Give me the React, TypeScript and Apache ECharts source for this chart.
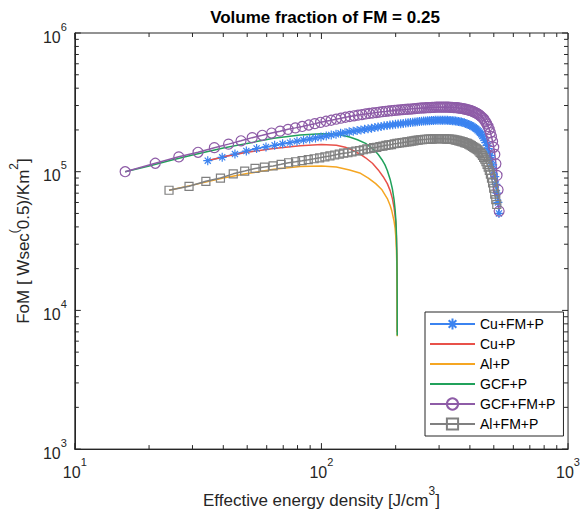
import React, { useEffect, useRef } from "react";
import * as echarts from "echarts";

// ---------- data (energy density in J/cm^3, FoM in units of 1e5) ----------
const seriesNames = ["Cu+FM+P", "Cu+P", "Al+P", "GCF+P", "GCF+FM+P", "Al+FM+P"];

const cuFmP_x = [34.6,39.6,44.6,49.6,54.6,59.6,64.6,69.6,74.6,79.6,84.6,89.6,94.6,99.6,104.6,109.6,114.6,119.6,124.6,129.6,134.6,139.6,144.6,149.6,154.6,159.6,164.6,169.6,174.6,179.6,184.6,189.6,194.6,199.6,204.6,209.6,214.6,219.6,224.6,229.6,234.6,239.6,244.6,249.6,254.6,259.6,264.6,269.6,274.6,279.6,284.6,289.6,294.6,299.6,304.6,309.6,314.6,319.6,324.6,329.6,334.6,339.6,344.6,349.6,354.6,359.6,364.6,369.6,374.6,379.6,384.6,389.6,394.6,399.6,404.6,409.6,414.6,419.6,424.6,429.6,434.6,439.6,444.6,449.6,454.6,459.6,464.6,469.6,474.6,479.6,484.6,489.6,494.6,499.6,504.6,509.6,514.6,519.6,524.6];
const cuFmP_y = [1.20,1.27,1.34,1.41,1.47,1.51,1.55,1.59,1.62,1.66,1.69,1.72,1.75,1.78,1.81,1.84,1.86,1.89,1.91,1.94,1.96,1.98,2.00,2.02,2.04,2.06,2.08,2.10,2.12,2.14,2.15,2.17,2.18,2.20,2.21,2.22,2.23,2.24,2.25,2.26,2.27,2.28,2.29,2.30,2.31,2.32,2.32,2.33,2.33,2.34,2.34,2.35,2.35,2.35,2.35,2.35,2.35,2.35,2.35,2.34,2.34,2.33,2.33,2.32,2.31,2.30,2.29,2.28,2.26,2.25,2.23,2.21,2.19,2.17,2.15,2.12,2.09,2.06,2.03,1.99,1.95,1.91,1.86,1.81,1.75,1.69,1.62,1.55,1.47,1.39,1.31,1.22,1.12,1.02,0.92,0.81,0.70,0.60,0.50];

const cuP_x = [34.6,40,50,64,82,100,115,125,135,145,151,161,170,178,185,190,194,197,199,200.5,201.5,202.2,202.6,202.85,202.95];
const cuP_y = [1.20,1.28,1.38,1.47,1.54,1.57,1.55,1.50,1.42,1.32,1.26,1.15,1.03,0.92,0.82,0.73,0.64,0.55,0.48,0.40,0.33,0.25,0.18,0.12,0.07];

const alP_x = [24.1,30,40,50,64,82,100,115,130,143,155,166,176,185,190,193,197,199,200.5,201.5,202.2,202.6,202.85,202.95];
const alP_y = [0.735,0.80,0.90,0.97,1.04,1.09,1.10,1.08,1.03,0.98,0.90,0.82,0.74,0.64,0.57,0.52,0.44,0.39,0.33,0.27,0.21,0.16,0.11,0.065];

const gcfP_x = [16,20,25,30,40,50,64,82,100,111,120,130,140,151,160,165,170,176,181,185,190,194,197,199,200.5,201.5,202.2,202.6,202.85,202.95];
const gcfP_y = [1.00,1.10,1.22,1.32,1.48,1.60,1.74,1.84,1.88,1.87,1.84,1.78,1.70,1.60,1.48,1.41,1.33,1.22,1.12,1.02,0.88,0.75,0.63,0.53,0.44,0.35,0.26,0.19,0.12,0.066];

const gcfFmP_x = [16,21.2,26.4,31.6,36.8,42,47.2,52.4,57.6,62.8,68,73.2,78.4,83.6,88.8,94,99.2,104.4,109.6,114.8,120,125.2,130.4,135.6,140.8,146,151.2,156.4,161.6,166.8,172,177.2,182.4,187.6,192.8,198,203.2,208.4,213.6,218.8,224,229.2,234.4,239.6,244.8,250,255.2,260.4,265.6,270.8,276,281.2,286.4,291.6,296.8,302,307.2,312.4,317.6,322.8,328,333.2,338.4,343.6,348.8,354,359.2,364.4,369.6,374.8,380,385.2,390.4,395.6,400.8,406,411.2,416.4,421.6,426.8,432,437.2,442.4,447.6,452.8,458,463.2,468.4,473.6,478.8,484,489.2,494.4,499.6,504.8,510,515.2,520.4,525.6];
const gcfFmP_y = [1.00,1.15,1.28,1.38,1.49,1.58,1.67,1.76,1.83,1.90,1.96,2.02,2.07,2.12,2.17,2.22,2.27,2.31,2.35,2.39,2.43,2.47,2.50,2.53,2.56,2.58,2.61,2.63,2.65,2.67,2.69,2.71,2.72,2.74,2.75,2.77,2.78,2.79,2.80,2.81,2.82,2.83,2.84,2.85,2.86,2.87,2.88,2.88,2.89,2.90,2.90,2.91,2.91,2.92,2.92,2.92,2.92,2.92,2.92,2.92,2.92,2.91,2.91,2.90,2.90,2.89,2.88,2.87,2.86,2.85,2.83,2.82,2.80,2.78,2.77,2.74,2.72,2.69,2.66,2.63,2.60,2.56,2.52,2.47,2.42,2.36,2.29,2.21,2.12,2.02,1.91,1.79,1.65,1.50,1.33,1.14,0.94,0.74,0.52];

const alFmP_x = [24.1,29.05,34,38.95,43.9,48.85,53.8,58.75,63.7,68.65,73.6,78.55,83.5,88.45,93.4,98.35,103.3,108.25,113.2,118.15,123.1,128.05,133,137.95,142.9,147.85,152.8,157.75,162.7,167.65,172.6,177.55,182.5,187.45,192.4,197.35,202.3,207.25,212.2,217.15,222.1,227.05,232,236.95,241.9,246.85,251.8,256.75,261.7,266.65,271.6,276.55,281.5,286.45,291.4,296.35,301.3,306.25,311.2,316.15,321.1,326.05,331,335.95,340.9,345.85,350.8,355.75,360.7,365.65,370.6,375.55,380.5,385.45,390.4,395.35,400.3,405.25,410.2,415.15,420.1,425.05,430,434.95,439.9,444.85,449.8,454.75,459.7,464.65,469.6,474.55,479.5,484.45,489.4,494.35,499.3,504.25,509.2,514.15];
const alFmP_y = [0.735,0.785,0.853,0.90,0.965,1.01,1.055,1.08,1.10,1.13,1.16,1.18,1.20,1.22,1.24,1.26,1.28,1.30,1.32,1.34,1.36,1.37,1.39,1.41,1.42,1.44,1.46,1.47,1.49,1.50,1.52,1.53,1.55,1.56,1.57,1.59,1.60,1.61,1.62,1.63,1.64,1.65,1.66,1.67,1.68,1.69,1.70,1.70,1.71,1.71,1.72,1.72,1.72,1.73,1.73,1.73,1.73,1.73,1.73,1.73,1.72,1.72,1.72,1.71,1.71,1.70,1.69,1.68,1.67,1.66,1.65,1.64,1.62,1.61,1.60,1.58,1.56,1.54,1.52,1.50,1.48,1.46,1.44,1.41,1.38,1.35,1.31,1.27,1.23,1.18,1.13,1.08,1.02,0.96,0.90,0.83,0.76,0.69,0.63,0.58];

const xMajorTicks = [10, 100, 1000];
const xMinorTicks = [20, 30, 40, 50, 60, 70, 80, 90, 200, 300, 400, 500, 600, 700, 800, 900];
const yMajorTicks = [1e3, 1e4, 1e5, 1e6];
const yMinorTicks = [2e3, 3e3, 4e3, 5e3, 6e3, 7e3, 8e3, 9e3, 2e4, 3e4, 4e4, 5e4, 6e4, 7e4, 8e4, 9e4, 2e5, 3e5, 4e5, 5e5, 6e5, 7e5, 8e5, 9e5];

const X_MIN = 10, X_MAX = 1000, Y_MIN = 1e3, Y_MAX = 1e6;

// ---------- style ----------
const FONT = "Liberation Sans, Arial, Helvetica, sans-serif";
const AX = "#262626";
const colors = {
  blue: "#3b83f0",
  red: "#e8514a",
  orange: "#f5a623",
  green: "#21a15b",
  purple: "#8e5ca7",
  gray: "#808080",
};
const ASTERISK = "path://M5 0L5 10M0 5L10 5M1.6 1.6L8.4 8.4M8.4 1.6L1.6 8.4";
const CLEAR = "rgba(0,0,0,0)";

const zip = (xs: number[], ys: number[]) => {
  const n = Math.min(xs.length, ys.length);
  const out: number[][] = [];
  for (let i = 0; i < n; i++) out.push([xs[i], ys[i] * 1e5]);
  return out;
};

const supRich = {
  b: { fontSize: 16, lineHeight: 24, verticalAlign: "bottom", color: AX, fontFamily: FONT },
  sup: { fontSize: 11, lineHeight: 12, verticalAlign: "top", color: AX, fontFamily: FONT },
};
const nameRich = {
  n: { fontSize: 17, lineHeight: 24, verticalAlign: "bottom", color: AX, fontFamily: FONT },
  sup: { fontSize: 12, lineHeight: 12, verticalAlign: "top", color: AX, fontFamily: FONT },
};
const powLabel = (v: number) => `{b|10}{sup|${Math.round(Math.log10(v))}}`;

export default function App() {
  const ref = useRef<HTMLDivElement>(null);

  useEffect(() => {
    if (!ref.current) return;
    const chart = echarts.init(ref.current, undefined, { renderer: "svg" });

    const xTickData = [
      ...xMajorTicks.map((v) => [v, Y_MIN, 1]),
      ...xMinorTicks.map((v) => [v, Y_MIN, 0]),
    ];
    const yTickData = [
      ...yMajorTicks.map((v) => [X_MIN, v, 1]),
      ...yMinorTicks.map((v) => [X_MIN, v, 0]),
    ];
    const tickStyle = { stroke: AX, lineWidth: 1 };

    const lineSeries = (name: string, data: number[][], color: string, extra: any = {}) => ({
      name,
      type: "line",
      data,
      symbol: "none",
      showSymbol: false,
      lineStyle: { color, width: 1.5 },
      itemStyle: { color: CLEAR, borderColor: CLEAR, borderWidth: 0 },
      emphasis: { disabled: true },
      silent: true,
      ...extra,
    });

    const option: any = {
      animation: false,
      backgroundColor: "#ffffff",
      title: {
        text: "Volume fraction of FM = 0.25",
        left: 320,
        top: 4,
        textAlign: "center",
        textStyle: { fontFamily: FONT, fontSize: 17, fontWeight: "bold", color: "#000" },
      },
      grid: {
        left: 71,
        right: 11,
        top: 33,
        bottom: 61,
        show: true,
        borderColor: AX,
        borderWidth: 1,
        backgroundColor: "#fff",
      },
      legend: {
        data: seriesNames,
        orient: "vertical",
        left: 425,
        top: 312,
        itemWidth: 45,
        itemHeight: 14,
        itemGap: 6,
        padding: [5, 8, 5, 4],
        borderColor: AX,
        borderWidth: 1,
        backgroundColor: "#fff",
        textStyle: { fontFamily: FONT, fontSize: 14, color: "#000" },
        selectedMode: false,
      },
      xAxis: {
        type: "log",
        logBase: 10,
        min: X_MIN,
        max: X_MAX,
        name: "{n|Effective energy density [J/cm}{sup|3}{n|]}",
        nameLocation: "middle",
        nameGap: 35,
        nameTextStyle: { rich: nameRich },
        axisLine: { show: true, lineStyle: { color: AX } },
        axisTick: { show: false },
        splitLine: { show: false },
        axisLabel: { formatter: powLabel, rich: supRich, margin: 7 },
      },
      yAxis: {
        type: "log",
        logBase: 10,
        min: Y_MIN,
        max: Y_MAX,
        name: "{n|FoM [ Wsec}{sup|(}{n|0.5)/Km}{sup|2}{n|]}",
        nameLocation: "middle",
        nameGap: 40,
        nameTextStyle: { rich: nameRich },
        axisLine: { show: true, lineStyle: { color: AX } },
        axisTick: { show: false },
        splitLine: { show: false },
        axisLabel: { formatter: powLabel, rich: supRich, margin: 8 },
      },
      series: [
        lineSeries("Cu+FM+P", zip(cuFmP_x, cuFmP_y), colors.blue, {
          symbol: ASTERISK,
          showSymbol: true,
          showAllSymbol: true,
          symbolSize: 9,
          itemStyle: { color: colors.blue, borderColor: colors.blue, borderWidth: 1.2 },
        }),
        lineSeries("Cu+P", zip(cuP_x, cuP_y), colors.red),
        lineSeries("Al+P", zip(alP_x, alP_y), colors.orange),
        lineSeries("GCF+P", zip(gcfP_x, gcfP_y), colors.green),
        lineSeries("GCF+FM+P", zip(gcfFmP_x, gcfFmP_y), colors.purple, {
          symbol: "circle",
          showSymbol: true,
          showAllSymbol: true,
          symbolSize: 10,
          itemStyle: { color: CLEAR, borderColor: colors.purple, borderWidth: 1.2 },
        }),
        lineSeries("Al+FM+P", zip(alFmP_x, alFmP_y), colors.gray, {
          symbol: "rect",
          showSymbol: true,
          showAllSymbol: true,
          symbolSize: 8,
          itemStyle: { color: CLEAR, borderColor: colors.gray, borderWidth: 1.2 },
        }),
        {
          type: "custom",
          silent: true,
          data: xTickData,
          encode: { x: 0, y: 1 },
          renderItem: (params: any, api: any) => {
            const v = api.value(0);
            const len = api.value(2) ? 6 : 4;
            const b = api.coord([v, Y_MIN]);
            const t = api.coord([v, Y_MAX]);
            return {
              type: "group",
              children: [
                { type: "line", shape: { x1: b[0], y1: b[1], x2: b[0], y2: b[1] - len }, style: tickStyle },
                { type: "line", shape: { x1: t[0], y1: t[1], x2: t[0], y2: t[1] + len }, style: tickStyle },
              ],
            };
          },
          z: 10,
        },
        {
          type: "custom",
          silent: true,
          data: yTickData,
          encode: { x: 0, y: 1 },
          renderItem: (params: any, api: any) => {
            const v = api.value(1);
            const len = api.value(2) ? 6 : 4;
            const l = api.coord([X_MIN, v]);
            const r = api.coord([X_MAX, v]);
            return {
              type: "group",
              children: [
                { type: "line", shape: { x1: l[0], y1: l[1], x2: l[0] + len, y2: l[1] }, style: tickStyle },
                { type: "line", shape: { x1: r[0], y1: r[1], x2: r[0] - len, y2: r[1] }, style: tickStyle },
              ],
            };
          },
          z: 10,
        },
      ],
    };

    chart.setOption(option);
    return () => chart.dispose();
  }, []);

  return (
    <div
      ref={ref}
      style={{ position: "absolute", left: 0, top: 0, width: 583, height: 514, background: "#fff" }}
    />
  );
}
